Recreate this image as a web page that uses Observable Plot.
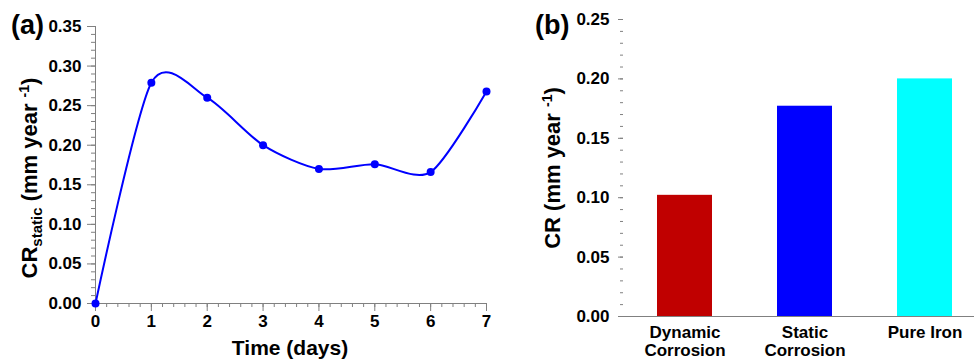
<!DOCTYPE html>
<html><head><meta charset="utf-8">
<script src="https://cdn.jsdelivr.net/npm/d3@7"></script>
<script src="https://cdn.jsdelivr.net/npm/@observablehq/plot@0.6"></script>
<style>
body{margin:0;background:#fff;}
#wrap{position:relative;width:974px;height:362px;overflow:hidden;background:#fff;}
#a,#b{position:absolute;top:0;}
#a{left:0}
#b{left:500px}
svg{overflow:visible}
</style></head><body>
<div id="wrap"><div id="a"></div><div id="b"></div></div>
<script>
// Panel (a)
const days = [0, 1, 2, 3, 4, 5, 6, 7];
const crStatic = [0, 0.279, 0.26, 0.2, 0.17, 0.176, 0.166, 0.268];
const yTicksA = [0, 0.05, 0.10, 0.15, 0.20, 0.25, 0.30, 0.35];
// Panel (b)
const categories = ["Dynamic\nCorrosion", "Static\nCorrosion", "Pure Iron"];
const crValues = [0.102, 0.177, 0.2];
const barColors = ["#c00000", "#0000ff", "#00ffff"];
const yTicksB = [0, 0.05, 0.10, 0.15, 0.20, 0.25];

const axisGray = "#808080";
const font = "'Liberation Sans', Arial, Helvetica, sans-serif";
const baseStyle = {fontFamily: font, fontSize: "17px", fontWeight: "bold", background: "transparent", color: "black", overflow: "visible"};

const lineData = days.map((d, i) => ({day: d, cr: crStatic[i]}));
const barData = categories.map((c, i) => ({cat: c, cr: crValues[i]}));

const chartA = Plot.plot({
  width: 500, height: 362,
  marginLeft: 95, marginRight: 14, marginTop: 26, marginBottom: 59,
  style: baseStyle,
  x: {domain: [0, 7]},
  y: {domain: [0, 0.35]},
  marks: [
    Plot.axisX({ticks: d3.range(0, 7.001, 0.2), tickSize: 4, tickFormat: () => "", stroke: axisGray, label: null}),
    Plot.axisX({ticks: days, tickSize: 8, tickPadding: 3, tickFormat: "d", stroke: axisGray, fill: "black", label: null}),
    Plot.axisY({ticks: d3.range(0, 0.3501, 0.01), tickSize: 4, tickFormat: () => "", stroke: axisGray, label: null}),
    Plot.axisY({ticks: yTicksA, tickSize: 8, tickPadding: 6, tickFormat: ".2f", stroke: axisGray, fill: "black", label: null}),
    Plot.ruleX([0], {stroke: axisGray}),
    Plot.ruleY([0], {stroke: axisGray}),
    Plot.line(lineData, {x: "day", y: "cr", curve: "cardinal", tension: 0.2, stroke: "#0000ff", strokeWidth: 2}),
    Plot.dot(lineData, {x: "day", y: "cr", r: 4, fill: "#0000ff"})
  ]
});

const chartB = Plot.plot({
  width: 474, height: 362,
  marginLeft: 123, marginRight: 0, marginTop: 19, marginBottom: 46,
  style: baseStyle,
  x: {domain: categories, range: [123, 486], paddingInner: 0.539, paddingOuter: 0.28, align: 0.5},
  y: {domain: [0, 0.25]},
  color: {domain: categories, range: barColors},
  marks: [
    Plot.barY(barData, {x: "cat", y: "cr", fill: "cat"}),
    Plot.axisY({ticks: d3.range(0, 0.2501, 0.01), tickSize: 3, tickFormat: () => "", stroke: axisGray, label: null}),
    Plot.axisY({ticks: yTicksB, tickSize: 5, tickPadding: 9, tickFormat: ".2f", stroke: axisGray, fill: "black", label: null}),
    Plot.axisX({tickSize: 0, tickPadding: 9, lineHeight: 1.04, fill: "black", label: null}),
    Plot.ruleX([0], {x: () => 0, frameAnchor: "left", stroke: axisGray}),
    Plot.ruleY([0], {stroke: axisGray})
  ]
});

document.getElementById("a").appendChild(chartA);
document.getElementById("b").appendChild(chartB);

function label(svg, x, y, size, parts, rotate) {
  const t = d3.select(svg).append("text")
    .attr("transform", `translate(${x},${y})` + (rotate ? " rotate(-90)" : ""))
    .attr("text-anchor", rotate === undefined ? "start" : "middle")
    .style("font-family", font).style("font-weight", "bold")
    .style("font-size", size + "px").attr("fill", "black");
  for (const p of parts) {
    const s = t.append("tspan").text(p.t);
    if (p.dy) s.attr("dy", p.dy);
    if (p.fs) s.style("font-size", p.fs + "px");
  }
  return t;
}

// Panel letters
label(chartA, 11, 34, 27, [{t: "(a)"}]);
label(chartB, 35, 34, 27, [{t: "(b)"}]);

// Axis titles
label(chartA, 37, 178, 22, [
  {t: "CR"}, {t: "static", fs: 15, dy: 5}, {t: " (mm year ", dy: -5},
  {t: "-1", fs: 14, dy: -8}, {t: ")", dy: 8}
], true);
label(chartB, 60, 168, 22, [
  {t: "CR (mm year "}, {t: "-1", fs: 14, dy: -8}, {t: ")", dy: 8}
], true);
const xt = label(chartA, 290, 355, 21, [{t: "Time (days)"}]);
xt.attr("text-anchor", "middle");
</script>
</body></html>
